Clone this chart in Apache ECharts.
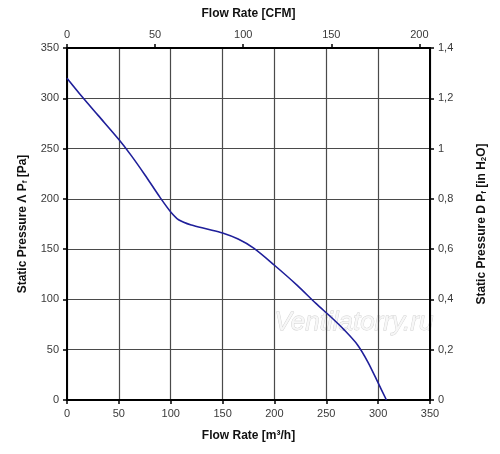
<!DOCTYPE html>
<html>
<head>
<meta charset="utf-8">
<script src="https://cdn.jsdelivr.net/npm/echarts@6/dist/echarts.min.js"></script>
<style>
  html, body { margin: 0; padding: 0; background: #fff; }
  #chart { width: 500px; height: 454px; }
</style>
</head>
<body>
<div id="chart"></div>
<script>
// flow rate in m3/h and static pressure in Pa
const flowM3h = [0, 15, 30, 50, 62, 75, 90, 100, 108, 120, 135, 150, 165, 180, 200, 222, 240, 255, 267, 280, 290, 300, 308];
const pressurePa = [320, 301, 283, 259, 243, 224, 201, 187, 179, 174, 170, 166, 160, 151, 134, 114, 96, 82, 70, 55, 38, 17, 0];

const m3hPerCfm = 1.699;
const flowMax = 350;
const pressureMax = 350;
const inH2OMax = 1.4;

const labelFont = { color: '#3a3a3a', fontSize: 11, fontFamily: 'Liberation Sans' };
const nameFont = { color: '#111', fontSize: 12, fontWeight: 'bold', fontFamily: 'Liberation Sans' };
const frame = { show: true, onZero: false, lineStyle: { color: '#000', width: 2 } };
const ticks = { show: true, length: 4, lineStyle: { color: '#000', width: 1.5 } };
const gridLines = { show: true, lineStyle: { color: '#4a4a4a', width: 1.2 } };
const subStyle = { fontSize: 8, fontWeight: 'bold', color: '#111', fontFamily: 'Liberation Sans', padding: [4, 0, 0, 0] };

const chart = echarts.init(document.getElementById('chart'), null, { renderer: 'canvas' });

const option = {
  animation: false,
  grid: { left: 67, right: 70, top: 48, bottom: 54, containLabel: false },
  xAxis: [
    {
      type: 'value', position: 'bottom', min: 0, max: flowMax, interval: 50,
      name: 'Flow Rate [m³/h]', nameLocation: 'middle', nameGap: 30,
      nameTextStyle: nameFont,
      axisLine: frame, axisTick: ticks,
      axisLabel: Object.assign({ margin: 8 }, labelFont),
      splitLine: gridLines
    },
    {
      type: 'value', position: 'top', min: 0, max: flowMax / m3hPerCfm, interval: 50,
      name: 'Flow Rate [CFM]', nameLocation: 'middle', nameGap: 28,
      nameTextStyle: nameFont,
      axisLine: frame, axisTick: ticks,
      axisLabel: Object.assign({ margin: 8, showMaxLabel: false }, labelFont),
      splitLine: { show: false }
    }
  ],
  yAxis: [
    {
      type: 'value', position: 'left', min: 0, max: pressureMax, interval: 50,
      name: 'Static Pressure Λ P{s|f} [Pa]', nameLocation: 'middle', nameGap: 38, nameRotate: 90,
      nameTextStyle: Object.assign({ rich: { s: subStyle } }, nameFont),
      axisLine: frame, axisTick: ticks,
      axisLabel: Object.assign({ margin: 8 }, labelFont),
      splitLine: gridLines
    },
    {
      type: 'value', position: 'right', min: 0, max: inH2OMax, interval: 0.2,
      name: 'Static Pressure D P{s|f} [in H{s|2}O]', nameLocation: 'middle', nameGap: 46, nameRotate: 90,
      nameTextStyle: Object.assign({ rich: { s: subStyle } }, nameFont),
      axisLine: frame, axisTick: ticks,
      axisLabel: Object.assign({
        margin: 8,
        formatter: v => String(Math.round(v * 10) / 10).replace('.', ',')
      }, labelFont),
      splitLine: { show: false }
    }
  ],
  graphic: [
    {
      type: 'text', left: 274, top: 309, silent: true,
      style: {
        text: 'Ventilatorry.ru', fontSize: 26, fontStyle: 'italic', fontFamily: 'Liberation Sans',
        fill: '#f7f7f7', stroke: '#cfcfcf', lineWidth: 0.8
      }
    }
  ],
  series: [
    {
      type: 'line', xAxisIndex: 0, yAxisIndex: 0,
      data: flowM3h.map((q, i) => [q, pressurePa[i]]),
      showSymbol: false, smooth: 0.3,
      lineStyle: { color: '#1f1f9a', width: 1.6 },
      z: 3
    }
  ]
};

chart.setOption(option);
</script>
</body>
</html>
